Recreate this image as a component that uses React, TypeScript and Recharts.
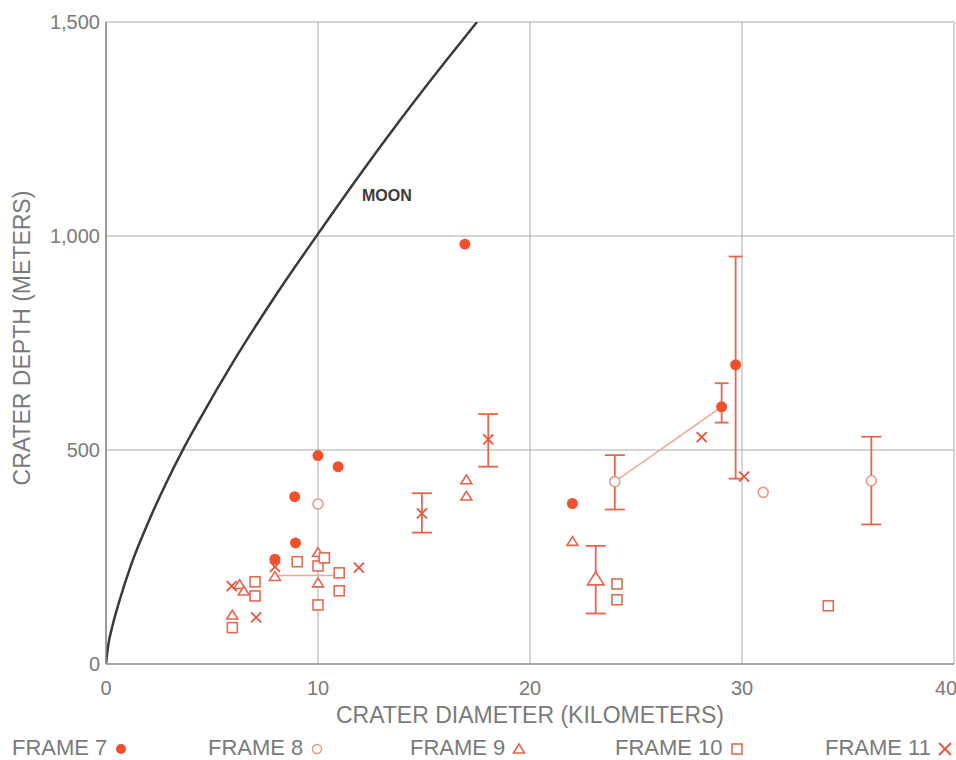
import {
  ComposedChart,
  Line,
  Scatter,
  ErrorBar,
  XAxis,
  YAxis,
  CartesianGrid,
  ReferenceLine,
  ReferenceDot,
} from "recharts";

// lunar depth/diameter curve
const moonCurve = [
  { x: 0, y: 0 },
  { x: 0.1, y: 42 },
  { x: 0.3, y: 88 },
  { x: 0.6, y: 142 },
  { x: 1.2, y: 234 },
  { x: 2, y: 332 },
  { x: 2.8, y: 419 },
  { x: 3.6, y: 498 },
  { x: 4.4, y: 570 },
  { x: 6, y: 706 },
  { x: 8, y: 861 },
  { x: 10, y: 1005 },
  { x: 12, y: 1145 },
  { x: 14, y: 1279 },
  { x: 16, y: 1407 },
  { x: 17.5, y: 1500 },
];

const frame7 = [
  { x: 16.93, y: 981 },
  { x: 10, y: 487 },
  { x: 10.95, y: 461 },
  { x: 8.9, y: 391 },
  { x: 8.94, y: 283 },
  { x: 7.97, y: 245 },
  { x: 22, y: 375 },
];
const frame7Err = [
  { x: 29.04, y: 601, err: [37, 55] },
  { x: 29.7, y: 699, err: [266, 253] },
];

const frame8 = [
  { x: 10, y: 374 },
  { x: 31, y: 401 },
];
const frame8Err = [
  { x: 24, y: 426, err: [65, 62] },
  { x: 36.1, y: 428, err: [102, 103] },
];

const frame9 = [
  { x: 17, y: 430 },
  { x: 17, y: 392 },
  { x: 10, y: 260 },
  { x: 10, y: 189 },
  { x: 7.97, y: 204 },
  { x: 6.3, y: 185 },
  { x: 6.5, y: 170 },
  { x: 5.96, y: 114 },
  { x: 22, y: 286 },
];
const frame9Err = [{ x: 23.1, y: 198, err: [80, 78] }];

const frame10 = [
  { x: 7.03, y: 192 },
  { x: 7.03, y: 159 },
  { x: 5.96, y: 85 },
  { x: 9.02, y: 239 },
  { x: 10, y: 229 },
  { x: 10.3, y: 248 },
  { x: 10, y: 138 },
  { x: 11, y: 213 },
  { x: 11, y: 171 },
  { x: 24.1, y: 187 },
  { x: 24.1, y: 150 },
  { x: 34.07, y: 136 },
];

const frame11 = [
  { x: 5.93, y: 182 },
  { x: 7.08, y: 109 },
  { x: 7.97, y: 227 },
  { x: 11.93, y: 225 },
  { x: 28.1, y: 530 },
  { x: 30.1, y: 438 },
];
const frame11Err = [
  { x: 14.9, y: 352, err: [45, 47] },
  { x: 18.03, y: 525, err: [64, 59] },
];

// thin connecting lines
const links = [
  [
    { x: 24, y: 426 },
    { x: 29.04, y: 601 },
  ],
  [
    { x: 7.9, y: 207 },
    { x: 10.8, y: 207 },
  ],
];

const xTicks = [0, 10, 20, 30, 40];
const yTicks = [0, 500, 1000, 1500];

const legendItems = [
  { label: "FRAME 7", kind: "dot", left: 12 },
  { label: "FRAME 8", kind: "ring", left: 208 },
  { label: "FRAME 9", kind: "tri", left: 410 },
  { label: "FRAME 10", kind: "sq", left: 615 },
  { label: "FRAME 11", kind: "x", left: 825 },
];

const RED = "#f2502a";
const RING = "#e89a88";
const TRI = "#e8644c";
const SQ = "#e66a50";
const CROSS = "#e8553c";
const GRAY = "#7a7a7a";
const FONT = "'Liberation Sans', Arial, sans-serif";

const dotShape = (p: any) => <circle cx={p.cx} cy={p.cy} r={5.5} fill={RED} />;
const ringShape = (p: any) => (
  <circle cx={p.cx} cy={p.cy} r={5} fill="#fff" stroke={RING} strokeWidth={1.6} />
);
const triShape = (s: number) => (p: any) => (
  <polygon
    points={`${p.cx},${p.cy - s} ${p.cx - s * 1.1},${p.cy + s * 0.75} ${p.cx + s * 1.1},${p.cy + s * 0.75}`}
    fill="#fff"
    stroke={TRI}
    strokeWidth={1.6}
  />
);
const sqShape = (p: any) => (
  <rect x={p.cx - 5} y={p.cy - 5} width={10} height={10} fill="#fff" stroke={SQ} strokeWidth={1.6} />
);
const crossShape = (p: any) => (
  <g stroke={CROSS} strokeWidth={1.8}>
    <line x1={p.cx - 5} y1={p.cy - 5} x2={p.cx + 5} y2={p.cy + 5} />
    <line x1={p.cx - 5} y1={p.cy + 5} x2={p.cx + 5} y2={p.cy - 5} />
  </g>
);

const LegendMark = ({ kind }: { kind: string }) => (
  <svg width={16} height={16} style={{ marginLeft: 6, verticalAlign: "middle" }}>
    {kind === "dot" && <circle cx={8} cy={8} r={5} fill={RED} />}
    {kind === "ring" && <circle cx={8} cy={8} r={4.5} fill="#fff" stroke={RING} strokeWidth={1.5} />}
    {kind === "tri" && <polygon points="8,3 2.5,12 13.5,12" fill="#fff" stroke={TRI} strokeWidth={1.6} />}
    {kind === "sq" && <rect x={3} y={3} width={10} height={10} fill="#fff" stroke={SQ} strokeWidth={1.6} />}
    {kind === "x" && (
      <g stroke={CROSS} strokeWidth={1.8}>
        <line x1={2} y1={2} x2={14} y2={14} />
        <line x1={2} y1={14} x2={14} y2={2} />
      </g>
    )}
  </svg>
);

export default function App() {
  return (
    <div
      style={{
        position: "absolute",
        left: 0,
        top: 0,
        width: 956,
        height: 760,
        background: "#fff",
        fontFamily: FONT,
        overflow: "hidden",
      }}
    >
      <ComposedChart width={956} height={760} margin={{ top: 22, right: 2, left: 0, bottom: 0 }}>
        <CartesianGrid stroke="#aaa" strokeWidth={1} />
        <XAxis
          type="number"
          dataKey="x"
          domain={[0, 40]}
          ticks={xTicks}
          height={96}
          tickLine={false}
          tickSize={0}
          tickMargin={17}
          axisLine={{ stroke: "#999", strokeWidth: 1.5 }}
          tick={{ fill: GRAY, fontSize: 20, fontFamily: FONT }}
          allowDataOverflow
        />
        <YAxis
          type="number"
          dataKey="y"
          domain={[0, 1500]}
          ticks={yTicks}
          width={106}
          tickLine={false}
          tickSize={0}
          tickMargin={6}
          axisLine={{ stroke: "#888", strokeWidth: 1.5 }}
          tick={{ fill: GRAY, fontSize: 20, fontFamily: FONT }}
          tickFormatter={(v) => v.toLocaleString("en-US")}
          allowDataOverflow
        />
        <Line
          data={moonCurve}
          dataKey="y"
          type="monotone"
          stroke="#3a3a3a"
          strokeWidth={2.5}
          dot={false}
          isAnimationActive={false}
        />
        <ReferenceDot
          x={13.25}
          y={1096}
          r={0}
          fill="none"
          stroke="none"
          label={{ value: "MOON", position: "center", fill: "#3a3a3a", fontSize: 16, fontWeight: 600, fontFamily: FONT }}
        />
        {links.map((seg, i) => (
          <ReferenceLine key={i} segment={seg} stroke="#eba898" strokeWidth={1.5} />
        ))}
        <Scatter data={frame7} shape={dotShape} isAnimationActive={false} />
        <Scatter data={frame7Err} shape={dotShape} isAnimationActive={false}>
          <ErrorBar dataKey="err" direction="y" width={7} stroke={TRI} strokeWidth={1.8} />
        </Scatter>
        <Scatter data={frame8} shape={ringShape} isAnimationActive={false} />
        <Scatter data={frame8Err} shape={ringShape} isAnimationActive={false}>
          <ErrorBar dataKey="err" direction="y" width={10} stroke={TRI} strokeWidth={1.8} />
        </Scatter>
        <Scatter data={frame9} shape={triShape(5)} isAnimationActive={false} />
        <Scatter data={frame9Err} shape={triShape(7.5)} isAnimationActive={false}>
          <ErrorBar dataKey="err" direction="y" width={10} stroke={TRI} strokeWidth={1.8} />
        </Scatter>
        <Scatter data={frame10} shape={sqShape} isAnimationActive={false} />
        <Scatter data={frame11} shape={crossShape} isAnimationActive={false} />
        <Scatter data={frame11Err} shape={crossShape} isAnimationActive={false}>
          <ErrorBar dataKey="err" direction="y" width={10} stroke={TRI} strokeWidth={1.8} />
        </Scatter>
      </ComposedChart>

      <div
        style={{
          position: "absolute",
          left: 106,
          width: 848,
          top: 702,
          textAlign: "center",
          fontSize: 23,
          color: GRAY,
          whiteSpace: "nowrap",
        }}
      >
        CRATER DIAMETER (KILOMETERS)
      </div>
      <div
        style={{
          position: "absolute",
          left: 22 - 200,
          top: 338 - 14,
          width: 400,
          textAlign: "center",
          fontSize: 23,
          lineHeight: "28px",
          color: GRAY,
          transform: "rotate(-90deg)",
          whiteSpace: "nowrap",
        }}
      >
        CRATER DEPTH (METERS)
      </div>
      {legendItems.map((it) => (
        <div
          key={it.label}
          style={{
            position: "absolute",
            left: it.left,
            top: 737,
            height: 22,
            fontSize: 22,
            lineHeight: "22px",
            color: GRAY,
            whiteSpace: "nowrap",
          }}
        >
          {it.label}
          <LegendMark kind={it.kind} />
        </div>
      ))}
    </div>
  );
}
